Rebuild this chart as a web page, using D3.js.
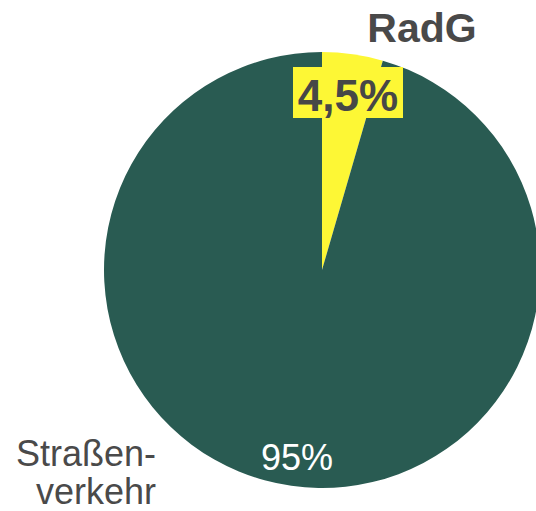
<!DOCTYPE html>
<meta charset="utf-8">
<style>
body { margin: 0; background: #fff; }
text { font-family: "Liberation Sans", Arial, Helvetica, sans-serif; }
</style>
<body>
<svg width="536" height="511"></svg>
<script src="https://d3js.org/d3.v7.min.js"></script>
<script>
var categories = ["RadG", "Straßenverkehr"];
var values = [4.5, 95.5];
var valueLabels = ["4,5%", "95%"];
var colors = ["#fdf735", "#295b52"];

var svg = d3.select("svg"),
    cx = 322, cy = 270, radius = 218;

var g = svg.append("g").attr("transform", "translate(" + cx + "," + cy + ")");

var pie = d3.pie().sort(null).value(function(d) { return d; });
var arc = d3.arc().innerRadius(0).outerRadius(radius);

g.selectAll("path")
  .data(pie(values))
  .enter().append("path")
    .attr("d", arc)
    .attr("fill", function(d, i) { return colors[i]; });

// RadG title
svg.append("text")
    .attr("x", 422).attr("y", 42)
    .attr("text-anchor", "middle")
    .style("font-size", "41px").style("font-weight", "bold")
    .style("fill", "#494949")
    .text(categories[0]);

// boxed label 4,5%
svg.append("rect")
    .attr("x", 293).attr("y", 67).attr("width", 110).attr("height", 51)
    .attr("fill", colors[0]);
svg.append("text")
    .attr("x", 348).attr("y", 111)
    .attr("text-anchor", "middle")
    .style("font-size", "44px").style("font-weight", "bold")
    .style("fill", "#474747")
    .text(valueLabels[0]);

// 95% inside
svg.append("text")
    .attr("x", 297).attr("y", 470)
    .attr("text-anchor", "middle")
    .style("font-size", "36px")
    .style("fill", "#fff")
    .text(valueLabels[1]);

// Straßen-verkehr
var lab = svg.append("text")
    .attr("text-anchor", "end")
    .style("font-size", "36px")
    .style("fill", "#4a4a4a");
lab.append("tspan").attr("x", 156).attr("y", 466).text("Straßen-");
lab.append("tspan").attr("x", 156).attr("y", 504).text("verkehr");
</script>
</body>
